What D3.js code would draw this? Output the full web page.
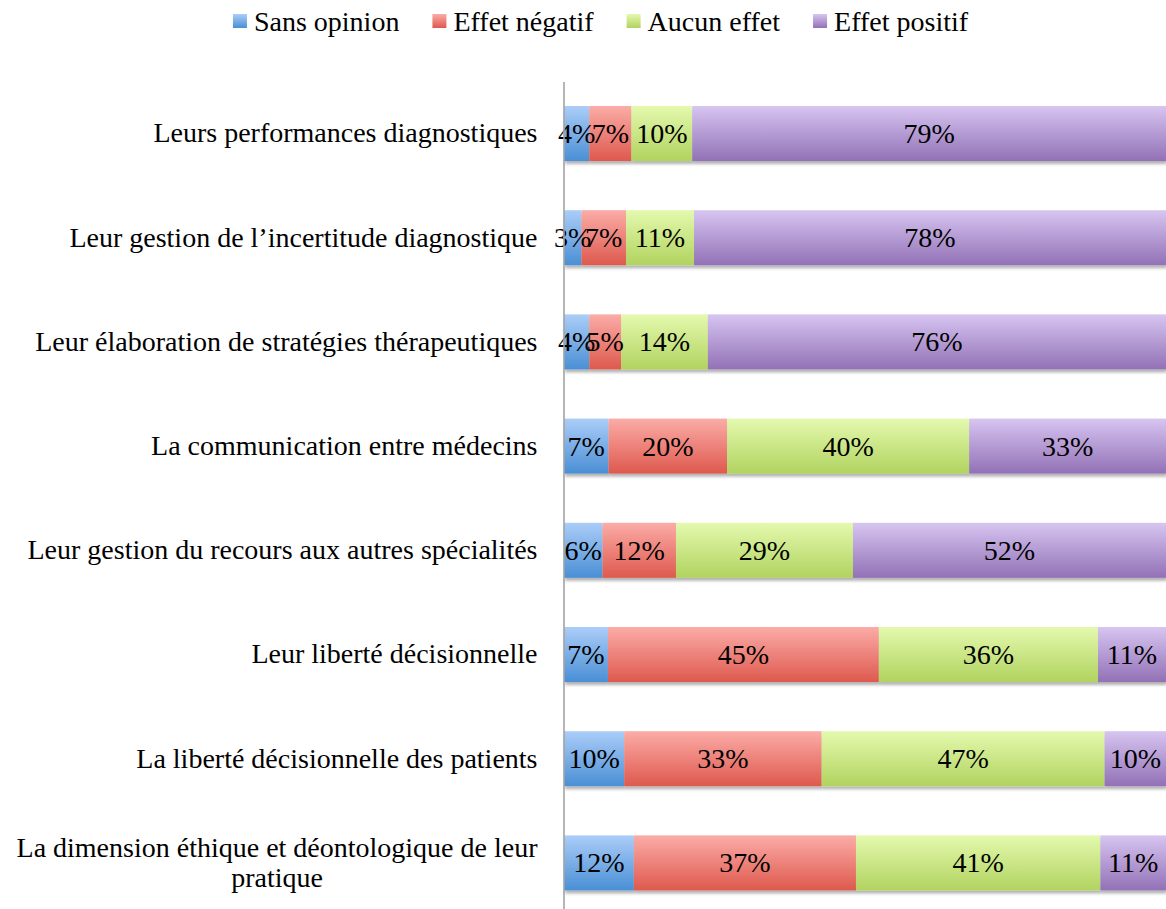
<!DOCTYPE html>
<html>
<head>
<meta charset="utf-8">
<script src="https://cdn.jsdelivr.net/npm/d3@7"></script>
<style>
  html, body { margin: 0; padding: 0; background: #fff; }
  svg { display: block; font-family: "Liberation Serif", "Times New Roman", serif; }
</style>
</head>
<body>
<svg id="chart" width="1166" height="909"></svg>
<script>
// ---- data ----
const categories = [
  "Leurs performances diagnostiques",
  "Leur gestion de l’incertitude diagnostique",
  "Leur élaboration de stratégies thérapeutiques",
  "La communication entre médecins",
  "Leur gestion du recours aux autres spécialités",
  "Leur liberté décisionnelle",
  "La liberté décisionnelle des patients",
  "La dimension éthique et déontologique de leur pratique"
];
const seriesNames = ["Sans opinion", "Effet négatif", "Aucun effet", "Effet positif"];
const sansOpinion  = [4.2, 2.9, 4.2, 7.4, 6.4, 7.3, 10.0, 11.6];
const effetNegatif = [7.0, 7.4, 5.3, 19.7, 12.2, 45.0, 32.8, 36.9];
const aucunEffet   = [10.1, 11.3, 14.4, 40.2, 29.4, 36.4, 47.0, 40.6];
const effetPositif = [78.7, 78.4, 76.1, 32.7, 52.0, 11.3, 10.2, 10.9];
const xDomain = [0, 100];

const colors = {
  "Sans opinion":  ["#abcdf8", "#4a8fd5"],
  "Effet négatif": ["#fbaca7", "#de594e"],
  "Aucun effet":   ["#e4f9ae", "#b1d35f"],
  "Effet positif": ["#d7c5f1", "#9271b6"]
};

const rows = categories.map((c, i) => ({
  cat: c,
  "Sans opinion": sansOpinion[i],
  "Effet négatif": effetNegatif[i],
  "Aucun effet": aucunEffet[i],
  "Effet positif": effetPositif[i]
}));

const svg = d3.select("#chart");
const W = 1166, H = 909;
const FONT = 28;

const x = d3.scaleLinear().domain(xDomain).range([564, 1166]);
const y = d3.scaleBand().domain(categories).range([81.4, 915]).paddingInner(0.472).paddingOuter(0.236);

// defs: gradients + shadow
const defs = svg.append("defs");
seriesNames.forEach((s, i) => {
  const g = defs.append("linearGradient").attr("id", "grad" + i)
    .attr("x1", 0).attr("y1", 0).attr("x2", 0).attr("y2", 1);
  g.append("stop").attr("offset", "0%").attr("stop-color", colors[s][0]);
  g.append("stop").attr("offset", "100%").attr("stop-color", colors[s][1]);
});
const f = defs.append("filter").attr("id", "shadow")
  .attr("x", "-5%").attr("y", "-20%").attr("width", "110%").attr("height", "160%");
f.append("feDropShadow").attr("dx", 1).attr("dy", 3).attr("stdDeviation", 1.6)
  .attr("flood-color", "#000").attr("flood-opacity", 0.3);

const stack = d3.stack().keys(seriesNames);
const stacked = stack(rows);

// bars
const barsG = svg.append("g").attr("filter", "url(#shadow)");
barsG.selectAll("g.series").data(stacked).join("g")
  .attr("class", "series")
  .attr("fill", (d, i) => `url(#grad${i})`)
  .selectAll("rect").data(d => d).join("rect")
  .attr("x", d => x(d[0]))
  .attr("y", d => y(d.data.cat))
  .attr("width", d => x(d[1]) - x(d[0]))
  .attr("height", y.bandwidth());

// value labels
const lblG = svg.append("g").attr("font-size", FONT).attr("fill", "#000").attr("text-anchor", "middle");
stacked.forEach(s => {
  lblG.selectAll(null).data(s).join("text")
    .attr("x", d => (x(d[0]) + x(d[1])) / 2)
    .attr("y", d => y(d.data.cat) + y.bandwidth() / 2)
    .attr("dy", "0.34em")
    .text(d => Math.round(d[1] - d[0]) + "%");
});

// axis
const axisG = svg.append("g").attr("transform", "translate(563.5,0)")
  .call(d3.axisLeft(y).tickSize(0).tickPadding(26));
axisG.select(".domain").attr("stroke", "#a3a3a3").attr("stroke-width", 1.6);
axisG.selectAll(".tick text")
  .attr("font-size", FONT).attr("font-family", "Liberation Serif, serif").attr("fill", "#000")
  .each(function(d) {
    const t = d3.select(this);
    const maxW = 535;
    const words = d.split(" ");
    const lines = [];
    let cur = [];
    t.text("");
    const probe = t.append("tspan");
    words.forEach(w => {
      const trial = cur.concat([w]).join(" ");
      probe.text(trial);
      if (probe.node().getComputedTextLength() > maxW && cur.length) {
        lines.push(cur.join(" "));
        cur = [w];
      } else cur.push(w);
    });
    lines.push(cur.join(" "));
    probe.remove();
    if (lines.length === 1) {
      t.text(lines[0]);
    } else {
      const tmp = t.append("tspan").text(lines[0]);
      const w0 = tmp.node().getComputedTextLength();
      tmp.remove();
      const cx = -26 - w0 / 2;
      const lh = 30;
      t.attr("text-anchor", "middle").attr("dy", null);
      lines.forEach((ln, k) => {
        t.append("tspan").attr("x", cx)
          .attr("dy", k === 0 ? (0.32 - (lines.length - 1) * lh / 2 / FONT) + "em" : lh + "px")
          .text(ln);
      });
    }
  });

// legend
const legend = svg.append("g").attr("font-size", FONT);
const items = legend.selectAll("g").data(seriesNames).join("g");
items.append("rect").attr("width", 14).attr("height", 14).attr("y", 14)
  .attr("fill", (d, i) => `url(#grad${i})`);
items.append("text").attr("x", 21).attr("y", 21).attr("dy", "0.34em").text(d => d);
let pos = 0;
const gap = 33;
const offs = [];
items.each(function() {
  offs.push(pos);
  pos += 21 + d3.select(this).select("text").node().getComputedTextLength() + gap;
});
const total = pos - gap;
const startX = 600.5 - total / 2;
items.attr("transform", (d, i) => `translate(${startX + offs[i]},0)`);
</script>
</body>
</html>
